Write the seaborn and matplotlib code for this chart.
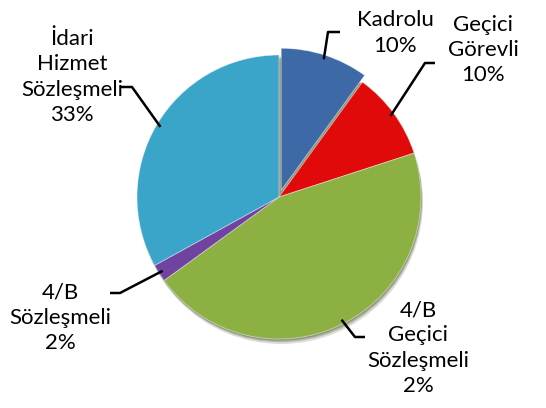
import numpy as np
import matplotlib
matplotlib.use("Agg")
import matplotlib.pyplot as plt
from matplotlib.patches import Circle
import seaborn as sns

# ---- data ----
categories = ["Kadrolu", "Geçici\nGörevli", "4/B\nGeçici\nSözleşmeli", "4/B\nSözleşmeli", "İdari\nHizmet\nSözleşmeli"]
values = [10, 10, 45, 2, 33]
pct_labels = ["10%", "10%", "2%", "2%", "33%"]
colors = ["#3D6AA6", "#E00A0A", "#8DB043", "#7043A0", "#3AA5C9"]
explode = [0.05, 0, 0, 0, 0]

sns.set_theme(style="white")
plt.rcParams["font.family"] = ["Lato", "DejaVu Sans"]

W, H = 546, 408
fig = plt.figure(figsize=(W / 100, H / 100), dpi=100)
ax = fig.add_axes([0, 0, 1, 1])

cx, cy, R = 279, 197, 142  # pixel layout of the pie


def px(x, y):
    return ((x - cx) / R, (cy - y) / R)


# soft shadow under the pie
for k, a in [(0.035, 0.18), (0.022, 0.25), (0.012, 0.3)]:
    ax.add_patch(Circle((k * 0.4, -k), 1.0, color="#3a4a20", alpha=a, lw=0, zorder=0))

wedges, _ = ax.pie(values, colors=colors, startangle=90, counterclock=False,
                   explode=explode, radius=1.0,
                   wedgeprops=dict(linewidth=0.6, edgecolor=(1, 1, 1, 0.5)))

# label layout (pixels): text center, elbow, end of leader
layout = [
    dict(text=(395, 33), elbow=(328, 32), end=(340, 32)),
    dict(text=(483, 50), elbow=(425, 63), end=(435, 63)),
    dict(text=(418, 348), elbow=(355, 337), end=(365, 337)),
    dict(text=(60, 318), elbow=(120, 293), end=(110, 293)),
    dict(text=(72, 77), elbow=(132, 87), end=(120, 87)),
]

for w, cat, pct, lay, ex in zip(wedges, categories, pct_labels, layout, explode):
    mid = np.deg2rad((w.theta1 + w.theta2) / 2)
    r = 0.97 + ex
    a_pt = (r * np.cos(mid), r * np.sin(mid))
    ex_, ey_ = px(*lay["elbow"])
    nx, ny = px(*lay["end"])
    ax.plot([a_pt[0], ex_, nx], [a_pt[1], ey_, ny], color="black", lw=1.8,
            solid_capstyle="butt", zorder=5)
    tx, ty = px(*lay["text"])
    ax.text(tx, ty, f"{cat}\n{pct}", ha="center", va="center", fontsize=16,
            linespacing=1.32, color="black")

ax.set_xlim(-cx / R, (W - cx) / R)
ax.set_ylim(-(H - cy) / R, cy / R)
ax.set_aspect("auto")
ax.axis("off")

fig.savefig("out.png", dpi=100, facecolor="white")
